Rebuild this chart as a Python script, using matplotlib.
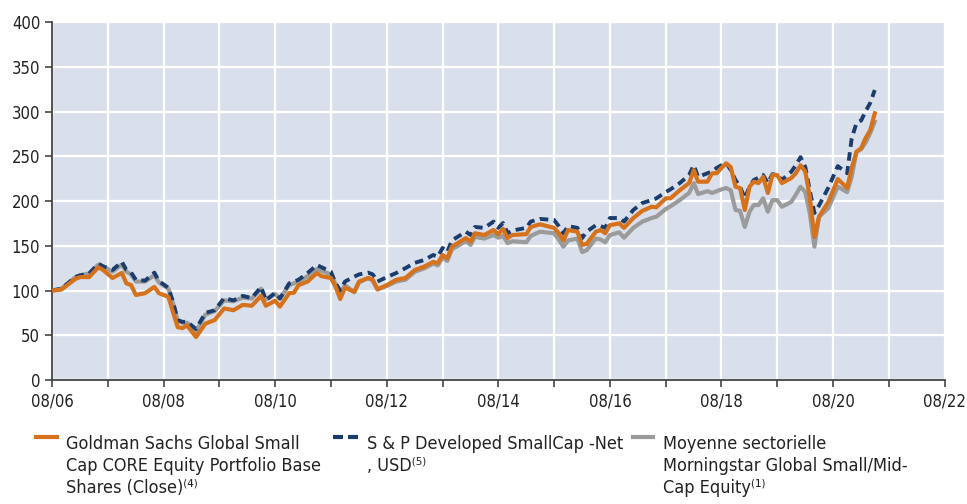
import numpy as np
import pandas as pd
import matplotlib
matplotlib.use("Agg")
import matplotlib.pyplot as plt
import matplotlib.dates as mdates
from matplotlib.lines import Line2D
from matplotlib import font_manager

# look for a narrow/condensed face, otherwise fall back to Liberation Sans
narrow = None
for f in font_manager.fontManager.ttflist:
    if ("Narrow" in f.name or "Condensed" in f.name or f.stretch == "condensed") and f.style == "normal":
        narrow = f
        break
if narrow is not None:
    fam = narrow.name
    stretch = narrow.stretch
else:
    fam = "Liberation Sans"
    stretch = "normal"
plt.rcParams['font.family'] = [fam, 'DejaVu Sans']
plt.rcParams['font.stretch'] = stretch

# monthly closes rebased to 100
dates = ["2006-08", "2006-10", "2007-01", "2007-02", "2007-04", "2007-06", "2007-07", "2007-09",
         "2007-11", "2007-12", "2008-01", "2008-02", "2008-04", "2008-06", "2008-07", "2008-09",
         "2008-10", "2008-11", "2008-12", "2009-01", "2009-03", "2009-05", "2009-07", "2009-09",
         "2009-11", "2010-01", "2010-03", "2010-05", "2010-06", "2010-08", "2010-09", "2010-11",
         "2010-12", "2011-01", "2011-03", "2011-05", "2011-06", "2011-08", "2011-09", "2011-10",
         "2011-11", "2012-01", "2012-02", "2012-04", "2012-05", "2012-06", "2012-08", "2012-10",
         "2012-12", "2013-02", "2013-04", "2013-06", "2013-07", "2013-08", "2013-09", "2013-10",
         "2014-01", "2014-02", "2014-03", "2014-05", "2014-07", "2014-08", "2014-09", "2014-10",
         "2014-11", "2015-02", "2015-03", "2015-05", "2015-08", "2015-09", "2015-10", "2015-11",
         "2016-01", "2016-02", "2016-03", "2016-05", "2016-06", "2016-07", "2016-08", "2016-10",
         "2016-11", "2017-01", "2017-03", "2017-05", "2017-06", "2017-08", "2017-09", "2017-11",
         "2018-01", "2018-02", "2018-03", "2018-05", "2018-06", "2018-07", "2018-08", "2018-09",
         "2018-10", "2018-11", "2018-12", "2019-01", "2019-02", "2019-03", "2019-04", "2019-05",
         "2019-06", "2019-07", "2019-08", "2019-09", "2019-11", "2019-12", "2020-01", "2020-02",
         "2020-03", "2020-04", "2020-05", "2020-07", "2020-09", "2020-11", "2020-12", "2021-01",
         "2021-02", "2021-03", "2021-04", "2021-05"]

fund = [100, 101, 113, 115, 115, 126, 123, 114,
        119.6, 108, 106, 95, 97, 104, 97, 93,
        76, 59, 58, 61, 48, 63, 67, 80,
        78, 84, 83, 94, 83, 88.6, 82, 97,
        97.5, 106, 110, 119.5, 116, 114, 104, 90.5,
        103, 98.7, 110, 114, 112, 101.5, 106, 112,
        114, 123, 126.6, 132, 130.5, 139.7, 136, 149,
        158.6, 154.5, 164, 162, 167.6, 163, 169, 158.6,
        162, 163, 171, 174, 170, 164, 156, 167.6,
        165.7, 151, 152, 165.7, 167.6, 164, 173, 175,
        170, 181, 189, 193.6, 193, 203, 203, 212,
        220, 234.6, 221.6, 221.6, 231, 231, 237, 242,
        238, 216, 214.5, 190, 216, 221.6, 220, 227,
        209, 229, 229, 220, 225.6, 231, 240, 232.7,
        205, 160, 182.5, 199, 224.6, 214.5, 237, 255,
        259, 270, 279, 298]

index = [100, 102, 115, 117, 119, 130, 127, 123,
         132, 123, 120, 112, 111, 120, 110.6, 103,
         87.5, 67, 65, 65, 57, 75, 78, 91.6,
         89, 94, 91.6, 104, 89, 97.5, 91, 108,
         110, 112, 119.5, 128.5, 126, 121, 108, 100,
         110, 115.5, 118, 120, 118, 110, 115, 119.5,
         125, 131, 134, 139.7, 137.8, 147.5, 143, 156,
         165.7, 162, 171, 170, 177, 170, 175.4, 164,
         167, 170, 177, 180, 178.8, 172, 164, 172,
         170, 158.6, 165.7, 173, 172, 170, 181, 181,
         177, 190, 197.8, 201, 203, 210, 213, 220,
         229, 240, 227, 231, 233, 237, 240, 242.7,
         234.6, 223.5, 216, 203, 216, 223.5, 226, 229,
         220, 230, 229, 223.5, 232.7, 240, 249, 238,
         212, 186.6, 195, 215, 239, 231, 270, 287,
         290, 300, 309.5, 324]

category = [100, 102, 115, 117, 119, 129, 127, 121,
            129, 121, 118, 110, 110, 117, 109, 102,
            86, 66, 64, 64, 54, 73, 77, 89,
            88, 92, 91, 102, 90, 96, 91, 106,
            108, 110, 116, 124, 122, 118, 107, 97,
            106, 98, 109, 114, 111, 101, 105, 110,
            112, 121, 124.6, 130, 128, 137, 133, 146,
            155, 151, 160, 158, 162, 159, 161, 153,
            155, 154, 161, 165.7, 164, 157, 149, 156,
            158, 143, 145, 158, 157, 154, 162, 165,
            159, 170, 177, 181, 182.5, 191, 194, 201,
            209, 220, 207.8, 211, 209, 211, 213, 214.5,
            212, 190, 189, 171, 188, 195.5, 195.5, 203,
            188, 201, 201, 193.6, 199, 207, 216, 210,
            186.6, 149, 182.5, 192, 216, 210, 227, 255,
            258, 265, 276, 288.6]

labels = ["Goldman Sachs Global Small\nCap CORE Equity Portfolio Base\nShares (Close)\u207d\u2074\u207e",
          "S & P Developed SmallCap -Net\n, USD\u207d\u2075\u207e",
          "Moyenne sectorielle\nMorningstar Global Small/Mid-\nCap Equity\u207d\u00b9\u207e"]

x = pd.to_datetime(dates)
orange = "#d6721c"
navy = "#1b3d6e"
grey = "#9b9b9b"

fig = plt.figure(figsize=(9.67, 5.04), dpi=100)
ax = fig.add_axes([0.0538, 0.246, 0.923, 0.7103])
ax.set_facecolor("#dae0eb")

ax.plot(x, category, color=grey, lw=3.0, zorder=3)
ax.plot(x, index, color=navy, lw=2.8, linestyle=(0, (2.2, 1.4)), dash_capstyle="butt", zorder=4)
ax.plot(x, fund, color=orange, lw=3.0, zorder=5)

ax.set_ylim(0, 400)
ax.set_yticks(np.arange(0, 401, 50))
ax.set_xlim(pd.Timestamp("2006-08-01"), pd.Timestamp("2022-08-01"))
ax.xaxis.set_major_locator(mdates.YearLocator(2, month=8, day=1))
ax.xaxis.set_minor_locator(mdates.YearLocator(1, month=8, day=1))
ax.xaxis.set_major_formatter(mdates.DateFormatter("%m/%y"))

ax.grid(True, which="both", color="white", lw=1.6)
ax.set_axisbelow(True)
for s in ["top", "right"]:
    ax.spines[s].set_visible(False)
for s in ["left", "bottom"]:
    ax.spines[s].set_color("#444444")
    ax.spines[s].set_linewidth(1.3)
tick_size = 12 if narrow is not None else 11
ax.tick_params(which="both", length=5, width=1.2, color="#444444", labelsize=tick_size, labelcolor="#222222")
ax.tick_params(axis="x", pad=4)

# legend below the plot
handle_x = [(36, 57), (333, 358), (633, 653)]
text_x = [66, 367, 663]
styles = [dict(color=orange, lw=3.0),
          dict(color=navy, lw=3.0, linestyle=(0, (2.4, 1.2)), dash_capstyle="butt"),
          dict(color=grey, lw=3.0)]
leg_size = 13 if narrow is not None else 11.5
W, H = 967, 504
for (a, b), tx, st, lab in zip(handle_x, text_x, styles, labels):
    fig.add_artist(Line2D([a / W, b / W], [1 - 437 / H, 1 - 437 / H], transform=fig.transFigure, **st))
    fig.text(tx / W, 1 - 435 / H, lab, fontsize=leg_size, color="#222222", va="top", ha="left", linespacing=1.3)

fig.savefig("out.png", dpi=100)
